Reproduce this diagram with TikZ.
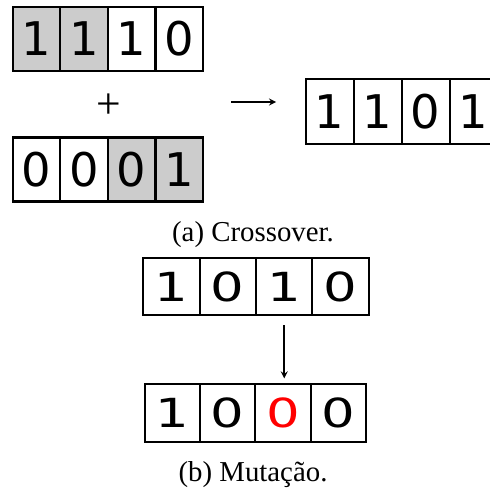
\documentclass[tikz,border=0pt]{standalone}
\usepackage{fontspec}
\setmainfont{Liberation Serif}
\setsansfont{DejaVu Sans}
\usetikzlibrary{positioning, arrows}
\tikzstyle{bit} = [rectangle, draw=black, line width=1.5pt, outer sep=0pt, inner sep=0pt, minimum width=1.19cm, minimum height=1.6cm, font=\sffamily\fontsize{33}{33}\selectfont]
\tikzstyle{mbit} = [bit, minimum width=1.41cm, minimum height=1.43cm, font=\sffamily\fontsize{28.5}{28.5}\selectfont]
\tikzstyle{arrow} = [line width=1.2pt,->,>=stealth]
\tikzset{swap/.style={fill=black!20}, caption/.style={font=\fontsize{20.5}{20.5}\selectfont}}
\newcommand{\widebit}[1]{\scalebox{1.32}[1]{#1}}

\begin{document}
\begin{tikzpicture}[x=0.025cm, y=-0.025cm]
    \useasboundingbox (0,0) rectangle (490,491);

    % crossover: two parents
    \node [bit, swap] (pa1) at (36.5,38.8) {1};
    \node [bit, swap, right=0pt of pa1] (pa2) {1};
    \node [bit, right=0pt of pa2] (pa3) {1};
    \node [bit, right=0pt of pa3] (pa4) {0};

    \node [font=\fontsize{31}{31}\selectfont] (plus) at (108.7,106) {+};

    \node [bit] (pb1) at (36.5,169.5) {0};
    \node [bit, right=0pt of pb1] (pb2) {0};
    \node [bit, swap, right=0pt of pb2] (pb3) {0};
    \node [bit, swap, right=0pt of pb3] (pb4) {1};

    % child
    \node [bit, minimum width=1.2cm, minimum height=1.63cm] (c1) at (329.7,111.5) {1};
    \node [bit, minimum width=1.2cm, minimum height=1.63cm, right=0pt of c1] (c2) {1};
    \node [bit, minimum width=1.2cm, minimum height=1.63cm, right=0pt of c2] (c3) {0};
    \node [bit, minimum width=1.2cm, minimum height=1.63cm, right=0pt of c3] (c4) {1};

    \coordinate (arrowIn) at (231,102);
    \coordinate (arrowOut) at (276,102);
    \draw [arrow] (arrowIn) -- (arrowOut);

    \node [caption] (capA) at (253,235) {(a) Crossover.};

    % mutation
    \node [mbit] (m1) at (171.4,286.5) {\widebit{1}};
    \node [mbit, right=0pt of m1] (m2) {\widebit{0}};
    \node [mbit, right=0pt of m2] (m3) {\widebit{1}};
    \node [mbit, right=0pt of m3] (m4) {\widebit{0}};

    \node [mbit, minimum width=1.38cm] (n1) at (172.6,413) {\widebit{1}};
    \node [mbit, minimum width=1.38cm, right=0pt of n1] (n2) {\widebit{0}};
    \node [mbit, minimum width=1.38cm, right=0pt of n2, text=red] (n3) {\widebit{0}};
    \node [mbit, minimum width=1.38cm, right=0pt of n3] (n4) {\widebit{0}};

    \draw [arrow, shorten <=0.25cm, shorten >=0.15cm] (m3.south) -- (m3.south |- n3.north);

    \node [caption] (capB) at (253,475) {(b) Mutação.};
\end{tikzpicture}
\end{document}
